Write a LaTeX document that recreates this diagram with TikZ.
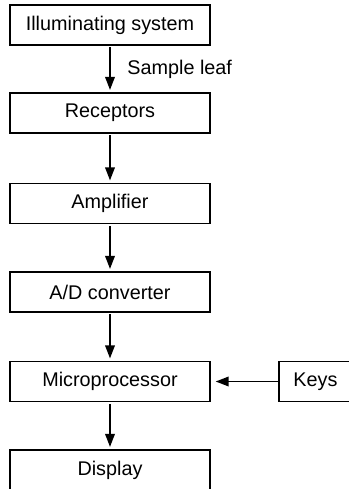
\documentclass[tikz,border=0pt]{standalone}
\usepackage{fontspec}
\setmainfont{Liberation Sans}
\usetikzlibrary{arrows.meta}
\begin{document}
\begin{tikzpicture}[x=0.5pt,y=-0.5pt,
  blk/.style={draw,line width=0.7pt,minimum width=100pt,minimum height=20pt,inner sep=0pt,font=\fontsize{9.9}{12}\selectfont},
  conn/.style={line width=0.8pt,-{Triangle[length=6.5pt,width=4.8pt]},shorten <=0.8pt,shorten >=1.2pt}]
\useasboundingbox (0,0) rectangle (349,489);
\clip (0,0) rectangle (349,489);
\node[blk] (ill) at (110,25) {Illuminating system};
\node[blk] (rec) at (110,113) {Receptors};
\node[blk] (amp) at (110,203.5) {Amplifier};
\node[blk] (adc) at (110,292) {A/D converter};
\node[blk] (mic) at (110,381.5) {Microprocessor};
\node[blk] (dis) at (110,470) {Display};
\node[blk,minimum width=36.5pt] (key) at (315.5,381.5) {Keys};
\draw[conn] (ill) -- node[right=5pt,font=\fontsize{9.9}{12}\selectfont,pos=0.5] {Sample leaf} (rec);
\draw[conn] (rec) -- (amp);
\draw[conn] (amp) -- (adc);
\draw[conn] (adc) -- (mic);
\draw[conn] (mic) -- (dis);
\draw[conn,shorten >=2.5pt,shorten <=0pt] (key) -- (mic);
\end{tikzpicture}
\end{document}
